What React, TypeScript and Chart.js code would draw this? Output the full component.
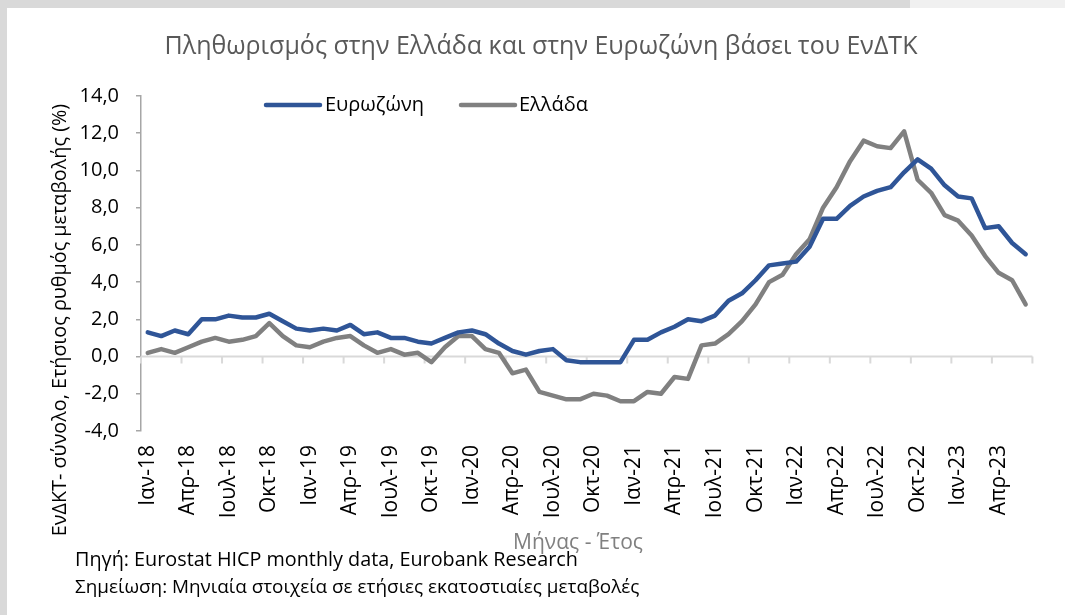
import React, { useEffect, useRef } from 'react';
import { Chart, registerables } from 'chart.js';

Chart.register(...registerables);

// ---- Data ----
const monthNames = ['Ιαν', 'Φεβ', 'Μαρ', 'Απρ', 'Μαϊ', 'Ιουν', 'Ιουλ', 'Αυγ', 'Σεπ', 'Οκτ', 'Νοε', 'Δεκ'];
const years = ['18', '19', '20', '21', '22', '23'];
const monthsInLastYear = 6;

const categories: string[] = [];
years.forEach((y, yi) => {
  const n = yi === years.length - 1 ? monthsInLastYear : 12;
  for (let m = 0; m < n; m++) categories.push(`${monthNames[m]}-${y}`);
});

const eurozone = [
  1.3, 1.1, 1.4, 1.2, 2.0, 2.0, 2.2, 2.1, 2.1, 2.3, 1.9, 1.5,
  1.4, 1.5, 1.4, 1.7, 1.2, 1.3, 1.0, 1.0, 0.8, 0.7, 1.0, 1.3,
  1.4, 1.2, 0.7, 0.3, 0.1, 0.3, 0.4, -0.2, -0.3, -0.3, -0.3, -0.3,
  0.9, 0.9, 1.3, 1.6, 2.0, 1.9, 2.2, 3.0, 3.4, 4.1, 4.9, 5.0,
  5.1, 5.9, 7.4, 7.4, 8.1, 8.6, 8.9, 9.1, 9.9, 10.6, 10.1, 9.2,
  8.6, 8.5, 6.9, 7.0, 6.1, 5.5,
];

const greece = [
  0.2, 0.4, 0.2, 0.5, 0.8, 1.0, 0.8, 0.9, 1.1, 1.8, 1.1, 0.6,
  0.5, 0.8, 1.0, 1.1, 0.6, 0.2, 0.4, 0.1, 0.2, -0.3, 0.5, 1.1,
  1.1, 0.4, 0.2, -0.9, -0.7, -1.9, -2.1, -2.3, -2.3, -2.0, -2.1, -2.4,
  -2.4, -1.9, -2.0, -1.1, -1.2, 0.6, 0.7, 1.2, 1.9, 2.8, 4.0, 4.4,
  5.5, 6.3, 8.0, 9.1, 10.5, 11.6, 11.3, 11.2, 12.1, 9.5, 8.8, 7.6,
  7.3, 6.5, 5.4, 4.5, 4.1, 2.8,
];

const seriesNames = ['Ευρωζώνη', 'Ελλάδα'];
const seriesColors = ['#2f5597', '#808080'];

const yMin = -4;
const yMax = 14;
const yStep = 2;
const labelEvery = 3;

const titleText = 'Πληθωρισμός στην Ελλάδα και στην Ευρωζώνη βάσει του ΕνΔΤΚ';
const yTitleText = 'ΕνΔΚΤ- σύνολο, Ετήσιος ρυθμός μεταβολής (%)';
const xTitleText = 'Μήνας - Έτος';
const sourceText = 'Πηγή: Eurostat HICP monthly data, Eurobank Research';
const noteText = 'Σημείωση: Μηνιαία στοιχεία σε ετήσιες εκατοστιαίες μεταβολές';

const FONT = '"Open Sans", "Noto Sans", "DejaVu Sans", sans-serif';

const W = 1065;
const H = 615;

const decorPlugin = {
  id: 'decor',
  beforeDatasetsDraw(chart: any) {
    const { ctx, chartArea, scales } = chart;
    const x = scales.x;
    const y = scales.y;
    const y0 = y.getPixelForValue(0);
    ctx.save();
    ctx.strokeStyle = '#d9d9d9';
    ctx.lineWidth = 2;
    ctx.beginPath();
    ctx.moveTo(chartArea.left, y0);
    ctx.lineTo(chartArea.right, y0);
    for (let i = 0; i <= categories.length; i += labelEvery) {
      const px = x.getPixelForValue(i - 0.5);
      ctx.moveTo(px, y0);
      ctx.lineTo(px, y0 + 7);
    }
    ctx.stroke();
    ctx.restore();
  },
  afterDraw(chart: any) {
    const { ctx } = chart;
    ctx.save();
    // Title
    ctx.fillStyle = '#595959';
    ctx.font = `25px ${FONT}`;
    ctx.textAlign = 'center';
    ctx.textBaseline = 'middle';
    ctx.fillText(titleText, 541, 47);

    // Y title
    ctx.save();
    ctx.translate(60, 320);
    ctx.rotate(-Math.PI / 2);
    ctx.fillStyle = '#000000';
    ctx.font = `19.8px ${FONT}`;
    ctx.fillText(yTitleText, 0, 0);
    ctx.restore();

    // X title
    ctx.fillStyle = '#808080';
    ctx.font = `21px ${FONT}`;
    ctx.fillText(xTitleText, 578, 543);

    // Source / note
    ctx.fillStyle = '#000000';
    ctx.textAlign = 'left';
    ctx.font = `19.8px ${FONT}`;
    ctx.fillText(sourceText, 75, 560);
    ctx.font = `18.9px ${FONT}`;
    ctx.fillText(noteText, 75, 588);

    // Legend
    const legendPos = [
      { x0: 266, x1: 320, tx: 325 },
      { x0: 461, x1: 515, tx: 519 },
    ];
    const ly = 105;
    chart.data.datasets.forEach((ds: any, i: number) => {
      const p = legendPos[i];
      ctx.strokeStyle = ds.borderColor;
      ctx.lineWidth = 4.5;
      ctx.lineCap = 'round';
      ctx.beginPath();
      ctx.moveTo(p.x0, ly);
      ctx.lineTo(p.x1, ly);
      ctx.stroke();
      ctx.fillStyle = '#000000';
      ctx.font = `20px ${FONT}`;
      ctx.textAlign = 'left';
      ctx.textBaseline = 'middle';
      ctx.fillText(ds.label, p.tx, ly);
    });
    ctx.restore();
  },
};

export default function App() {
  const canvasRef = useRef<HTMLCanvasElement | null>(null);

  useEffect(() => {
    const canvas = canvasRef.current;
    if (!canvas) return;
    const chart = new Chart(canvas, {
      type: 'line',
      data: {
        labels: categories,
        datasets: [
          {
            label: seriesNames[0],
            data: eurozone,
            borderColor: seriesColors[0],
            backgroundColor: seriesColors[0],
            borderWidth: 4.5,
            pointRadius: 0,
            tension: 0,
            borderJoinStyle: 'round',
            borderCapStyle: 'round',
          },
          {
            label: seriesNames[1],
            data: greece,
            borderColor: seriesColors[1],
            backgroundColor: seriesColors[1],
            borderWidth: 4.5,
            pointRadius: 0,
            tension: 0,
            borderJoinStyle: 'round',
            borderCapStyle: 'round',
          },
        ],
      },
      options: {
        responsive: false,
        animation: false,
        devicePixelRatio: 1,
        layout: { padding: { left: 0, top: 96, right: 18, bottom: 0 } },
        plugins: {
          legend: { display: false },
          title: { display: false },
          tooltip: { enabled: false },
        },
        scales: {
          x: {
            type: 'category',
            offset: true,
            grid: { display: false, drawTicks: false },
            border: { display: false },
            ticks: {
              autoSkip: false,
              minRotation: 90,
              maxRotation: 90,
              padding: 14,
              color: '#000000',
              font: { family: FONT, size: 21 },
              callback: (_v: any, idx: number) => (idx % labelEvery === 0 ? categories[idx] : ''),
            },
            afterFit: (scale: any) => {
              scale.height = H - 431;
            },
          },
          y: {
            min: yMin,
            max: yMax,
            grid: {
              drawOnChartArea: false,
              drawTicks: true,
              tickLength: 5,
              color: '#a6a6a6',
              lineWidth: 1.5,
            },
            border: { display: true, color: '#a6a6a6', width: 1.5 },
            ticks: {
              stepSize: yStep,
              padding: 17,
              color: '#000000',
              font: { family: FONT, size: 20 },
              callback: (v: any) => Number(v).toFixed(1).replace('.', ','),
            },
            afterFit: (scale: any) => {
              scale.width = 141;
            },
          },
        },
      },
      plugins: [decorPlugin],
    });
    return () => chart.destroy();
  }, []);

  return (
    <div style={{ position: 'absolute', left: 0, top: 0, width: W, height: H, background: '#ffffff', overflow: 'hidden' }}>
      <canvas ref={canvasRef} width={W} height={H} style={{ position: 'absolute', left: 0, top: 0, width: W, height: H }} />
      <div style={{ position: 'absolute', left: 0, top: 0, width: 910, height: 8, background: '#d9d9d9' }} />
      <div style={{ position: 'absolute', left: 910, top: 0, width: W - 910, height: 8, background: '#f0f0f0' }} />
      <div style={{ position: 'absolute', left: 0, top: 0, width: 7, height: H, background: '#d9d9d9' }} />
    </div>
  );
}
